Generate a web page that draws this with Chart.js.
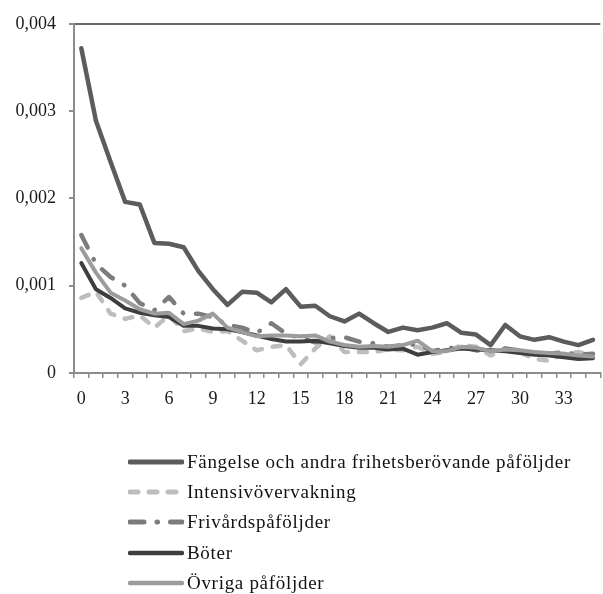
<!DOCTYPE html>
<html>
<head>
<meta charset="utf-8">
<script src="https://cdn.jsdelivr.net/npm/chart.js@4"></script>
<style>
  body { margin: 0; background: #fff; overflow: hidden; }
  #wrap { position: relative; width: 603px; height: 594px; }
  #legend { position: absolute; left: 0; top: 0; width: 603px; height: 594px; pointer-events: none; }
  .item { position: absolute; left: 128px; height: 30px; display: flex; align-items: center;
          font-family: "Liberation Serif", "DejaVu Serif", serif; font-size: 19px; letter-spacing: 0.7px; color: #111; }
  .item svg { margin-right: 3px; }
</style>
</head>
<body>
<div id="wrap">
  <canvas id="chart" width="603" height="410"></canvas>
  <div id="legend"></div>
</div>
<script>
// x categories
const categories = Array.from({ length: 36 }, (_, i) => String(i));

// values
const fangelse = [3.72, 2.89, 2.42, 1.96, 1.93, 1.49, 1.48, 1.44, 1.17, 0.96, 0.78, 0.93, 0.92, 0.81, 0.96, 0.76, 0.77, 0.65,
  0.59, 0.68, 0.57, 0.47, 0.52, 0.49, 0.52, 0.57, 0.46, 0.44, 0.32, 0.55, 0.42, 0.38, 0.41, 0.36, 0.32, 0.38];
const intensiv = [0.86, 0.93, 0.68, 0.62, 0.66, 0.52, 0.66, 0.48, 0.51, 0.47, 0.48, 0.37, 0.26, 0.30, 0.32, 0.10, 0.28, 0.42,
  0.24, 0.24, 0.24, 0.27, 0.26, 0.30, 0.22, 0.24, 0.32, 0.30, 0.20, 0.28, 0.24, 0.16, 0.14, 0.22, 0.24, 0.20];
const frivard = [1.58, 1.25, 1.10, 1.00, 0.80, 0.72, 0.87, 0.68, 0.68, 0.64, 0.55, 0.52, 0.46, 0.57, 0.45, 0.40, 0.35, 0.40,
  0.41, 0.36, 0.34, 0.30, 0.32, 0.33, 0.25, 0.28, 0.30, 0.26, 0.25, 0.28, 0.26, 0.23, 0.22, 0.24, 0.21, 0.22];
const boter = [1.26, 0.96, 0.86, 0.74, 0.69, 0.66, 0.64, 0.54, 0.54, 0.51, 0.50, 0.47, 0.43, 0.39, 0.36, 0.36, 0.37, 0.34,
  0.31, 0.29, 0.29, 0.27, 0.28, 0.21, 0.24, 0.26, 0.28, 0.27, 0.26, 0.25, 0.23, 0.21, 0.20, 0.18, 0.16, 0.17];
const ovriga = [1.43, 1.15, 0.92, 0.83, 0.73, 0.68, 0.69, 0.56, 0.60, 0.68, 0.52, 0.47, 0.42, 0.43, 0.43, 0.42, 0.43, 0.36,
  0.32, 0.30, 0.31, 0.30, 0.32, 0.37, 0.25, 0.25, 0.30, 0.29, 0.25, 0.27, 0.26, 0.24, 0.23, 0.22, 0.20, 0.19];

const yTicks = [0, 0.001, 0.002, 0.003, 0.004];

const names = ['Fängelse och andra frihetsberövande påföljder', 'Intensivövervakning', 'Frivårdspåföljder', 'Böter', 'Övriga påföljder'];
const series = [fangelse, intensiv, frivard, boter, ovriga];
const colors = ['#5c5c5c', '#bdbdbd', '#7c7c7c', '#3e3e3e', '#9c9c9c'];
const widths = [4.5, 4.5, 4.5, 4, 4];
const dashes = [[], [8, 11], [14, 13, 0.5, 13], [], []];

const serif = '"Liberation Serif", "DejaVu Serif", serif';

const datasets = series.map((s, i) => ({
  label: names[i],
  data: s.map(v => v / 1000),
  borderColor: colors[i],
  backgroundColor: colors[i],
  borderWidth: widths[i],
  borderDash: dashes[i],
  borderCapStyle: 'round',
  borderJoinStyle: 'round',
  pointRadius: 0,
  tension: 0,
  fill: false,
  order: series.length - 1 - i   // later series on top, like the original
}));

new Chart(document.getElementById('chart'), {
  type: 'line',
  data: { labels: categories, datasets: datasets },
  options: {
    responsive: false,
    animation: false,
    layout: { padding: { top: 21, right: 0, left: 0, bottom: 0 } },
    plugins: { legend: { display: false }, tooltip: { enabled: false } },
    scales: {
      x: {
        type: 'category',
        offset: true,
        grid: { offset: true, color: 'transparent', tickColor: '#8c8c8c', tickLength: 5, lineWidth: 1.5 },
        border: { color: '#8c8c8c', width: 2 },
        ticks: {
          autoSkip: false, maxRotation: 0, padding: 10, color: '#1a1a1a',
          font: { family: serif, size: 18 },
          callback: (v, i) => (i % 3 === 0 ? categories[i] : '')
        },
        afterFit: s => { s.height = 410 - 373; }
      },
      y: {
        min: 0, max: 0.004,
        afterBuildTicks: s => { s.ticks = yTicks.map(v => ({ value: v })); },
        grid: {
          color: c => (c.tick && c.tick.value === 0.004 ? '#6a6a6a' : 'transparent'),
          lineWidth: 2, tickColor: '#8c8c8c', tickLength: 5
        },
        border: { color: '#8c8c8c', width: 2 },
        ticks: {
          padding: 13, color: '#1a1a1a',
          font: { family: serif, size: 18 },
          callback: v => (v === 0 ? '0' : v.toFixed(3).replace('.', ','))
        },
        afterFit: s => { s.width = 74; }
      }
    }
  }
});

// legend, one entry per row
const legend = document.getElementById('legend');
const rowY = [447, 477, 507, 538, 568];
names.forEach((n, i) => {
  const d = document.createElement('div');
  d.className = 'item';
  d.style.top = rowY[i] + 'px';
  const dash = dashes[i].length ? dashes[i].join(' ') : 'none';
  d.innerHTML = '<svg width="56" height="10"><line x1="2" y1="5" x2="54" y2="5" stroke="' + colors[i] +
    '" stroke-width="' + (widths[i] + 0.5) + '" stroke-linecap="round" stroke-dasharray="' + dash + '"/></svg>';
  const t = document.createElement('span');
  t.textContent = n;
  d.appendChild(t);
  legend.appendChild(d);
});
</script>
</body>
</html>
